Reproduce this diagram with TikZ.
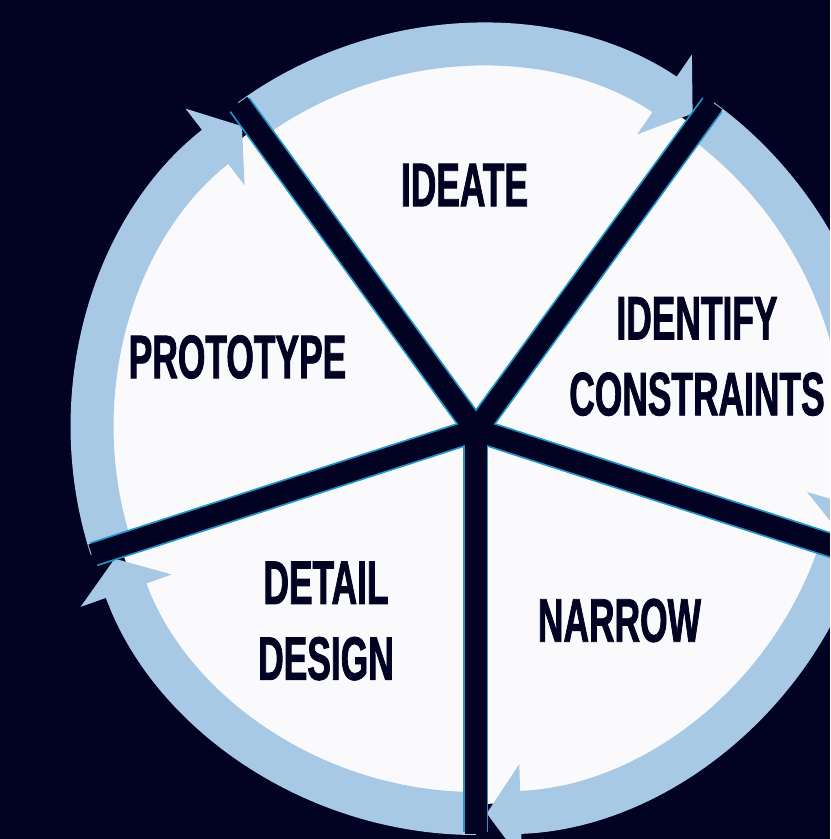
\documentclass[tikz,border=0pt]{standalone}
\usepackage{fontspec}
\newfontfamily\stagefont{Liberation Sans}[FakeStretch=0.575,FakeBold=1.2]
\usetikzlibrary{arrows.meta}
\definecolor{navy}{RGB}{2,2,34}
\definecolor{ringblue}{RGB}{167,201,229}
\definecolor{disk}{RGB}{250,250,252}
\definecolor{edgecyan}{RGB}{30,150,200}
\tikzset{
  ring/.style={line width=0.43cm, ringblue, -{Triangle[length=0.34cm,width=0.95cm]}},
  spokeedge/.style={line width=0.25cm, edgecyan},
  spoke/.style={line width=0.215cm, navy},
  stage/.style={font=\stagefont\bfseries\fontsize{17.5}{21.6}\selectfont, text=navy, align=center}
}

\begin{document}
\begin{tikzpicture}
  \useasboundingbox (-4.76,-4.09) rectangle (3.54,4.30);
  \clip (-4.76,-4.09) rectangle (3.54,4.30);
  \fill[navy] (-4.76,-4.09) rectangle (3.54,4.30);
  \coordinate (hub) at (0,0);
  \fill[disk] (hub) circle (3.74);

  \draw[ring] (126:3.835) arc[start angle=126, end angle=55.6, radius=3.835];
  \draw[ring] (54:3.835) arc[start angle=54, end angle=-16.4, radius=3.835];
  \draw[ring] (-18:3.835) arc[start angle=-18, end angle=-88.4, radius=3.835];
  \draw[ring] (-90:3.835) arc[start angle=-90, end angle=-160.4, radius=3.835];
  \draw[ring] (198:3.835) arc[start angle=198, end angle=127.6, radius=3.835];

  \draw[spokeedge] (hub) -- (126:4.02);
  \draw[spokeedge] (hub) -- (54:4.02);
  \draw[spokeedge] (hub) -- (-18:4.02);
  \draw[spokeedge] (hub) -- (-90:4.02);
  \draw[spokeedge] (hub) -- (198:4.02);
  \draw[spoke] (hub) -- (126:4.04);
  \draw[spoke] (hub) -- (54:4.04);
  \draw[spoke] (hub) -- (-18:4.04);
  \draw[spoke] (hub) -- (-90:4.04);
  \draw[spoke] (hub) -- (198:4.04);

  \node[stage] (ideate) at (-0.115,2.45) {IDEATE};
  \node[stage] (identify) at (2.21,0.735) {IDENTIFY\\CONSTRAINTS};
  \node[stage] (narrow) at (1.435,-1.905) {NARROW};
  \node[stage] (detail) at (-1.50,-1.91) {DETAIL\\DESIGN};
  \node[stage] (prototype) at (-2.385,0.73) {PROTOTYPE};
\end{tikzpicture}
\end{document}
